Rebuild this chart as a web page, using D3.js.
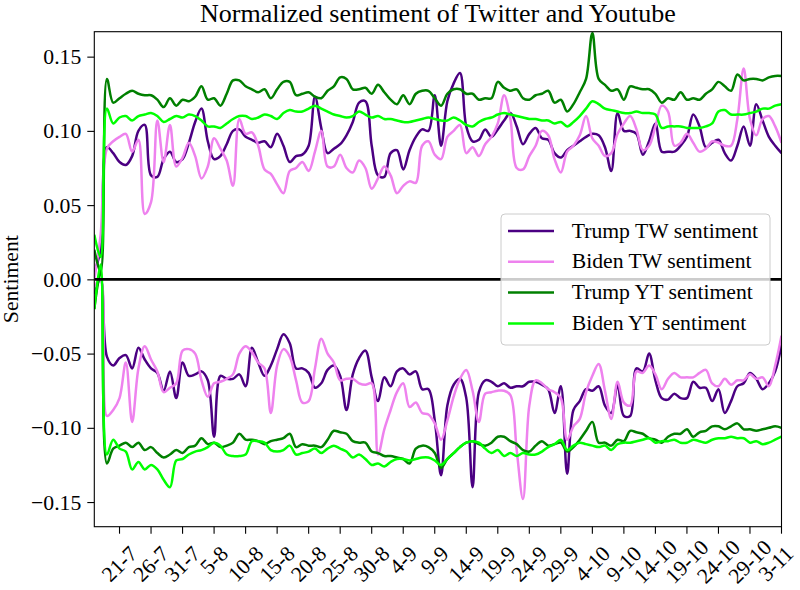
<!DOCTYPE html>
<html><head><meta charset="utf-8">
<script src="https://cdn.jsdelivr.net/npm/d3@7"></script>
<style>body{margin:0;background:#fff}</style>
</head><body><svg id="c" width="800" height="590"></svg>
<script>
const startDate = "2020-07-17";
const endDate = "2020-11-03";
const tickLabels = ["21-7","26-7","31-7","5-8","10-8","15-8","20-8","25-8","30-8","4-9","9-9","14-9","19-9","24-9","29-9","4-10","9-10","14-10","19-10","24-10","29-10","3-11"];
const yTicks = [-0.15,-0.10,-0.05,0.00,0.05,0.10,0.15];
const seriesNames = ["Trump TW sentiment","Biden TW sentiment","Trump YT sentiment","Biden YT sentiment"];

const trumpTwPos = [
0.005,0.020,0.089,0.085,0.079,0.077,0.083,0.100,0.104,0.070,
0.069,0.081,0.086,0.079,0.081,0.092,0.106,0.115,0.093,0.081,
0.083,0.091,0.100,0.101,0.096,0.094,0.092,0.093,0.089,0.098,
0.090,0.079,0.083,0.084,0.090,0.123,0.102,0.085,0.088,0.091,
0.097,0.106,0.119,0.120,0.090,0.070,0.069,0.085,0.087,0.074,
0.087,0.096,0.101,0.100,0.124,0.090,0.120,0.132,0.139,0.103,
0.093,0.094,0.101,0.096,0.101,0.107,0.112,0.103,0.091,0.098,
0.102,0.095,0.094,0.085,0.082,0.087,0.090,0.093,0.096,0.098,
0.097,0.089,0.073,0.112,0.100,0.100,0.098,0.084,0.093,0.105,
0.086,0.086,0.086,0.090,0.096,0.111,0.103,0.089,0.092,0.094,
0.085,0.080,0.090,0.103,0.090,0.118,0.107,0.096,0.090,0.085];
const bidenTwPos = [
0.000,0.030,0.088,0.093,0.096,0.098,0.086,0.094,0.044,0.052,
0.107,0.079,0.104,0.076,0.082,0.092,0.083,0.068,0.076,0.095,
0.088,0.080,0.063,0.108,0.098,0.099,0.090,0.074,0.071,0.064,
0.058,0.073,0.075,0.079,0.073,0.086,0.100,0.076,0.076,0.084,
0.075,0.072,0.080,0.075,0.061,0.068,0.076,0.070,0.058,0.063,
0.066,0.065,0.090,0.093,0.084,0.081,0.096,0.100,0.104,0.085,
0.089,0.083,0.091,0.096,0.105,0.124,0.108,0.075,0.074,0.083,
0.090,0.100,0.097,0.081,0.072,0.086,0.090,0.097,0.110,0.095,
0.090,0.083,0.085,0.098,0.105,0.110,0.101,0.087,0.090,0.103,
0.117,0.113,0.090,0.092,0.098,0.092,0.086,0.088,0.093,0.092,
0.090,0.090,0.108,0.142,0.108,0.097,0.108,0.110,0.103,0.092];
const trumpYtPos = [
0.020,0.005,0.135,0.119,0.122,0.125,0.127,0.125,0.124,0.124,
0.121,0.116,0.122,0.117,0.121,0.120,0.123,0.130,0.121,0.122,
0.117,0.125,0.134,0.134,0.130,0.128,0.126,0.128,0.122,0.128,
0.133,0.133,0.124,0.125,0.126,0.123,0.122,0.127,0.130,0.136,
0.135,0.128,0.128,0.129,0.125,0.131,0.126,0.121,0.118,0.124,
0.118,0.125,0.127,0.127,0.122,0.117,0.125,0.128,0.128,0.125,
0.125,0.121,0.122,0.122,0.133,0.129,0.127,0.128,0.122,0.121,
0.124,0.125,0.127,0.119,0.121,0.113,0.118,0.126,0.135,0.166,
0.135,0.131,0.127,0.128,0.121,0.130,0.129,0.128,0.128,0.125,
0.119,0.122,0.121,0.126,0.121,0.122,0.121,0.125,0.128,0.133,
0.130,0.127,0.138,0.134,0.135,0.135,0.134,0.136,0.137,0.137];
const bidenYtPos = [
0.030,0.015,0.115,0.105,0.109,0.110,0.107,0.110,0.111,0.112,
0.110,0.106,0.108,0.110,0.109,0.111,0.110,0.107,0.103,0.103,
0.102,0.105,0.108,0.110,0.110,0.108,0.109,0.111,0.110,0.108,
0.112,0.114,0.113,0.113,0.115,0.117,0.115,0.113,0.111,0.110,
0.109,0.110,0.113,0.111,0.109,0.110,0.108,0.108,0.107,0.106,
0.106,0.107,0.108,0.109,0.108,0.107,0.107,0.109,0.107,0.104,
0.103,0.106,0.108,0.109,0.111,0.112,0.111,0.110,0.109,0.108,
0.108,0.107,0.107,0.105,0.106,0.103,0.106,0.110,0.115,0.120,
0.118,0.115,0.114,0.113,0.112,0.112,0.113,0.112,0.112,0.111,
0.102,0.103,0.103,0.103,0.102,0.102,0.102,0.103,0.105,0.113,
0.114,0.111,0.111,0.111,0.112,0.113,0.115,0.115,0.117,0.118];
const trumpTwNeg = [
-0.010,0.000,-0.052,-0.058,-0.053,-0.051,-0.060,-0.046,-0.054,-0.060,
-0.063,-0.075,-0.062,-0.080,-0.056,-0.065,-0.064,-0.062,-0.068,-0.106,
-0.065,-0.067,-0.067,-0.064,-0.072,-0.046,-0.056,-0.065,-0.058,-0.047,
-0.037,-0.043,-0.060,-0.060,-0.063,-0.073,-0.070,-0.061,-0.058,-0.065,
-0.088,-0.064,-0.053,-0.048,-0.066,-0.082,-0.066,-0.072,-0.062,-0.060,
-0.064,-0.062,-0.074,-0.074,-0.095,-0.132,-0.085,-0.071,-0.067,-0.080,
-0.140,-0.076,-0.068,-0.069,-0.072,-0.070,-0.073,-0.072,-0.072,-0.069,
-0.069,-0.071,-0.074,-0.090,-0.072,-0.131,-0.088,-0.082,-0.074,-0.075,
-0.072,-0.085,-0.090,-0.071,-0.092,-0.092,-0.060,-0.062,-0.050,-0.068,
-0.080,-0.081,-0.077,-0.080,-0.080,-0.069,-0.073,-0.073,-0.082,-0.074,
-0.090,-0.082,-0.072,-0.070,-0.063,-0.067,-0.074,-0.070,-0.062,-0.044];
const bidenTwNeg = [
-0.005,0.000,-0.092,-0.088,-0.080,-0.056,-0.096,-0.060,-0.045,-0.054,
-0.062,-0.076,-0.073,-0.070,-0.048,-0.047,-0.050,-0.068,-0.079,-0.070,
-0.069,-0.067,-0.064,-0.050,-0.045,-0.049,-0.056,-0.060,-0.090,-0.058,
-0.047,-0.052,-0.068,-0.083,-0.082,-0.060,-0.040,-0.050,-0.056,-0.068,
-0.067,-0.067,-0.070,-0.071,-0.070,-0.118,-0.101,-0.088,-0.076,-0.070,
-0.086,-0.083,-0.090,-0.091,-0.097,-0.108,-0.095,-0.079,-0.067,-0.061,
-0.075,-0.096,-0.077,-0.076,-0.075,-0.075,-0.078,-0.115,-0.148,-0.085,
-0.068,-0.070,-0.074,-0.076,-0.080,-0.108,-0.099,-0.094,-0.076,-0.065,
-0.057,-0.075,-0.094,-0.069,-0.083,-0.085,-0.062,-0.063,-0.058,-0.064,
-0.074,-0.067,-0.063,-0.066,-0.066,-0.066,-0.063,-0.061,-0.070,-0.072,
-0.067,-0.071,-0.068,-0.068,-0.064,-0.067,-0.066,-0.072,-0.058,-0.038];
const trumpYtNeg = [
-0.020,0.005,-0.124,-0.114,-0.112,-0.110,-0.113,-0.110,-0.115,-0.113,
-0.117,-0.120,-0.118,-0.115,-0.117,-0.113,-0.112,-0.107,-0.111,-0.110,
-0.113,-0.112,-0.110,-0.104,-0.108,-0.108,-0.109,-0.111,-0.109,-0.108,
-0.107,-0.104,-0.113,-0.111,-0.112,-0.112,-0.113,-0.108,-0.102,-0.103,
-0.104,-0.109,-0.110,-0.110,-0.116,-0.117,-0.119,-0.119,-0.120,-0.121,
-0.124,-0.114,-0.112,-0.113,-0.117,-0.127,-0.121,-0.117,-0.113,-0.110,
-0.109,-0.111,-0.112,-0.110,-0.106,-0.106,-0.109,-0.111,-0.115,-0.116,
-0.112,-0.109,-0.112,-0.111,-0.110,-0.116,-0.113,-0.108,-0.102,-0.096,
-0.110,-0.110,-0.112,-0.108,-0.109,-0.102,-0.103,-0.104,-0.107,-0.108,
-0.110,-0.106,-0.104,-0.104,-0.101,-0.106,-0.103,-0.102,-0.099,-0.099,
-0.101,-0.099,-0.097,-0.101,-0.101,-0.102,-0.101,-0.100,-0.099,-0.100];
const bidenYtNeg = [
-0.020,0.010,-0.118,-0.108,-0.114,-0.116,-0.128,-0.123,-0.128,-0.125,
-0.128,-0.135,-0.140,-0.122,-0.121,-0.118,-0.116,-0.115,-0.113,-0.110,
-0.112,-0.118,-0.119,-0.119,-0.118,-0.109,-0.109,-0.110,-0.115,-0.116,
-0.115,-0.112,-0.118,-0.117,-0.116,-0.114,-0.117,-0.114,-0.112,-0.114,
-0.116,-0.120,-0.118,-0.121,-0.125,-0.124,-0.126,-0.123,-0.121,-0.121,
-0.122,-0.121,-0.120,-0.120,-0.122,-0.125,-0.121,-0.117,-0.113,-0.110,
-0.109,-0.110,-0.114,-0.117,-0.115,-0.119,-0.117,-0.119,-0.117,-0.118,
-0.118,-0.116,-0.113,-0.111,-0.108,-0.115,-0.112,-0.110,-0.111,-0.112,
-0.113,-0.112,-0.115,-0.111,-0.110,-0.110,-0.109,-0.108,-0.107,-0.110,
-0.109,-0.109,-0.108,-0.110,-0.110,-0.108,-0.109,-0.110,-0.108,-0.107,
-0.107,-0.106,-0.107,-0.107,-0.110,-0.109,-0.111,-0.110,-0.108,-0.106];

const colors = ["#4b0082", "#ee82ee", "#008000", "#00ff00"];
const FONT = "'Liberation Serif','Times New Roman',Times,serif";

const parseDay = d3.utcParse("%Y-%m-%d");
const dates = d3.utcDay.range(parseDay(startDate), d3.utcDay.offset(parseDay(endDate), 1));

const posSeries = [trumpTwPos, bidenTwPos, trumpYtPos, bidenYtPos];
const negSeries = [trumpTwNeg, bidenTwNeg, trumpYtNeg, bidenYtNeg];

const L = 94.3, R = 781.5, T = 31.7, B = 526.7;
const x = d3.scaleUtc().domain([dates[0], dates[dates.length - 1]]).range([L, R]);
const y = d3.scaleLinear().domain([-0.1666, 0.1668]).range([B, T]);

const svg = d3.select("#c").style("font-family", FONT);
svg.append("rect").attr("width", 800).attr("height", 590).attr("fill", "#fff");

svg.append("defs").append("clipPath").attr("id", "clip")
  .append("rect").attr("x", L).attr("y", T).attr("width", R - L).attr("height", B - T);

const line = d3.line().x((d, i) => x(dates[i])).y(d => y(d)).curve(d3.curveCatmullRom.alpha(0.5));

const plot = svg.append("g").attr("clip-path", "url(#clip)");
posSeries.forEach((s, k) => {
  plot.append("path").datum(s).attr("d", line).attr("fill", "none")
    .attr("stroke", colors[k]).attr("stroke-width", 2.5).attr("stroke-linejoin", "round");
});
negSeries.forEach((s, k) => {
  plot.append("path").datum(s).attr("d", line).attr("fill", "none")
    .attr("stroke", colors[k]).attr("stroke-width", 2.5).attr("stroke-linejoin", "round");
});
// zero line
plot.append("line").attr("x1", L).attr("x2", R).attr("y1", y(0)).attr("y2", y(0))
  .attr("stroke", "#000").attr("stroke-width", 2.6);

// frame
svg.append("rect").attr("x", L).attr("y", T).attr("width", R - L).attr("height", B - T)
  .attr("fill", "none").attr("stroke", "#000").attr("stroke-width", 1.1);

// y axis
const yAxis = d3.axisLeft(y).tickValues(yTicks).tickSize(7).tickPadding(6)
  .tickFormat(d3.format(".2f"));
const gy = svg.append("g").attr("transform", `translate(${L},0)`).call(yAxis);
gy.select(".domain").remove();
gy.selectAll(".tick line").attr("stroke", "#000").attr("stroke-width", 1.1);
gy.selectAll(".tick text").attr("font-family", FONT).attr("font-size", 21.7).attr("fill", "#000");

// x axis
const parseTick = d3.utcParse("%d-%m-%Y");
const tickDates = tickLabels.map(t => parseTick(t + "-2020"));
const gx = svg.append("g");
tickDates.forEach((d, i) => {
  const tx = x(d);
  gx.append("line").attr("x1", tx).attr("x2", tx).attr("y1", B).attr("y2", B + 7)
    .attr("stroke", "#000").attr("stroke-width", 1.1);
  const t = gx.append("text").text(tickLabels[i]).attr("font-size", 21.7)
    .attr("text-anchor", "middle").attr("dy", "0.33em").attr("fill", "#000");
  const len = t.node().getComputedTextLength();
  const half = (len + 25) * 0.3536;
  const cy = Math.min(B + 7 + 7.6 + (len + 24.4) * 0.3536, 588.5 - half);
  const cx = Math.min(tx, 798.5 - half);
  t.attr("transform", `translate(${cx},${cy}) rotate(-45)`);
});

// title
svg.append("text").attr("x", (L + R) / 2).attr("y", 22).attr("text-anchor", "middle")
  .attr("font-size", 26).attr("fill", "#000").text("Normalized sentiment of Twitter and Youtube");

// y label
svg.append("text").attr("transform", `translate(18.3,${(T + B) / 2}) rotate(-90)`)
  .attr("text-anchor", "middle").attr("font-size", 21.7).attr("fill", "#000").text("Sentiment");

// legend
const lg = svg.append("g");
lg.append("rect").attr("x", 501).attr("y", 214).attr("width", 269).attr("height", 131)
  .attr("rx", 4).attr("fill", "#fff").attr("fill-opacity", 0.8)
  .attr("stroke", "#cccccc").attr("stroke-width", 1);
seriesNames.forEach((n, k) => {
  const ry = 231 + k * 30.8;
  lg.append("line").attr("x1", 508).attr("x2", 554).attr("y1", ry).attr("y2", ry)
    .attr("stroke", colors[k]).attr("stroke-width", 2.5);
  lg.append("text").attr("x", 571.7).attr("y", ry).attr("dy", "0.3em")
    .attr("font-size", 21.7).attr("fill", "#000").text(n);
});
</script></body></html>
